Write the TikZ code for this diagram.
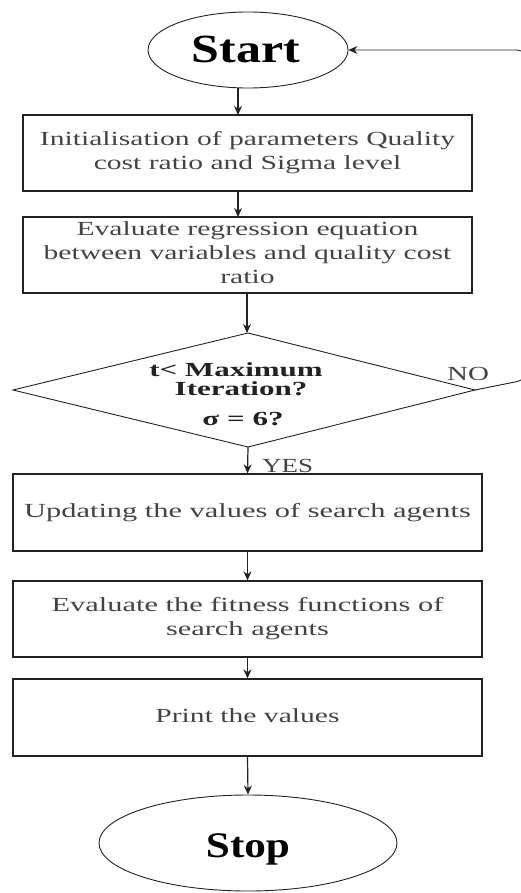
\documentclass[tikz,border=0pt]{standalone}
\usepackage{graphicx}
\usepackage{fontspec}
\setmainfont{Liberation Serif}
\usetikzlibrary{shapes.geometric,arrows.meta}
\definecolor{ink}{HTML}{222222}
% horizontally widened text block
\newcommand{\wtext}[2][1.48]{\scalebox{#1}[1]{\begin{tabular}{@{}c@{}}#2\end{tabular}}}
\begin{document}
\begin{tikzpicture}[x=1pt,y=-1pt,
  box/.style={draw=ink, line width=1.3pt, inner sep=0pt, align=center,
    font=\fontsize{20}{24}\selectfont, text=ink!85},
  term/.style={draw=ink, ellipse, line width=0.9pt, inner sep=0pt},
  termtext/.style={inner sep=0pt, anchor=base, text=black},
  flow/.style={-{Stealth[length=9pt,width=8pt]}, line width=1.2pt, draw=ink},
  lbl/.style={font=\fontsize{20}{24}\selectfont, text=ink!85, inner sep=0pt, anchor=base west},
  cond/.style={font=\fontsize{20}{19}\selectfont\bfseries, text=ink, inner sep=0pt, anchor=base}]
\useasboundingbox (0,0) rectangle (520,893);

% terminals
\node[term, minimum width=200, minimum height=76] (start) at (248,50) {};
\node[termtext, font=\fontsize{40}{44}\selectfont\bfseries] (starttxt) at (246,63)
  {\scalebox{1.25}[1]{Start}};
\node[term, minimum width=298, minimum height=96] (stop) at (248,843) {};
\node[termtext, font=\fontsize{36}{40}\selectfont\bfseries] (stoptxt) at (248,857)
  {\scalebox{1.2}[1]{Stop}};

% process boxes
\node[box, minimum width=449, minimum height=76] (init) at (247.5,153)
  {\wtext{Initialisation of parameters Quality\\cost ratio and Sigma level}};
\node[box, minimum width=449, minimum height=76] (regr) at (247.5,255)
  {\wtext{Evaluate regression equation\\between variables and quality cost\\ratio}};
\node[box, minimum width=469, minimum height=77] (upd) at (247.5,512.5)
  {\wtext[1.52]{Updating the values of search agents}};
\node[box, minimum width=469, minimum height=76] (fit) at (247.5,619)
  {\wtext[1.52]{Evaluate the fitness functions of\\search agents}};
\node[box, minimum width=469, minimum height=77] (prn) at (247.5,717.5)
  {\wtext{Print the values}};

% decision
\coordinate (dtop) at (248,333);
\coordinate (dright) at (475,390);
\coordinate (dbot) at (248,447);
\coordinate (dleft) at (13,390);
\draw[draw=ink, line width=0.9pt] (dtop) -- (dright) -- (dbot) -- (dleft) -- cycle;
\node[cond] (q1) at (236,376) {\scalebox{1.55}[1]{t< Maximum}};
\node[cond] (q2) at (241,395) {\scalebox{1.55}[1]{Iteration?}};
\node[cond] (q3) at (243,425) {\scalebox{1.55}[1]{σ = 6?}};

% connectors
\coordinate (a1) at (238,88);
\coordinate (b1) at (238,115);
\coordinate (a2) at (238,191);
\coordinate (b2) at (238,217);
\coordinate (a3) at (247,293);
\coordinate (b3) at (247,333);
\draw[flow] (a1) -- (b1);
\draw[flow] (a2) -- (b2);
\draw[flow] (a3) -- (b3);
\draw[flow] (dbot) -- (upd.north);
\draw[flow] (upd.south) -- (fit.north);
\draw[flow] (fit.south) -- (prn.north);
\draw[flow] (prn.south) -- (stop.north);

% loop back on NO
\coordinate (lowc) at (530,379);
\coordinate (topc) at (530,50);
\draw[flow, line width=0.9pt, rounded corners=14pt] (dright) -- (lowc) -- (topc) -- (start.east);

\node[lbl] (no) at (447,380) {\scalebox{1.45}[1]{NO}};
\node[lbl] (yes) at (262,472) {\scalebox{1.35}[1]{YES}};
\end{tikzpicture}
\end{document}
